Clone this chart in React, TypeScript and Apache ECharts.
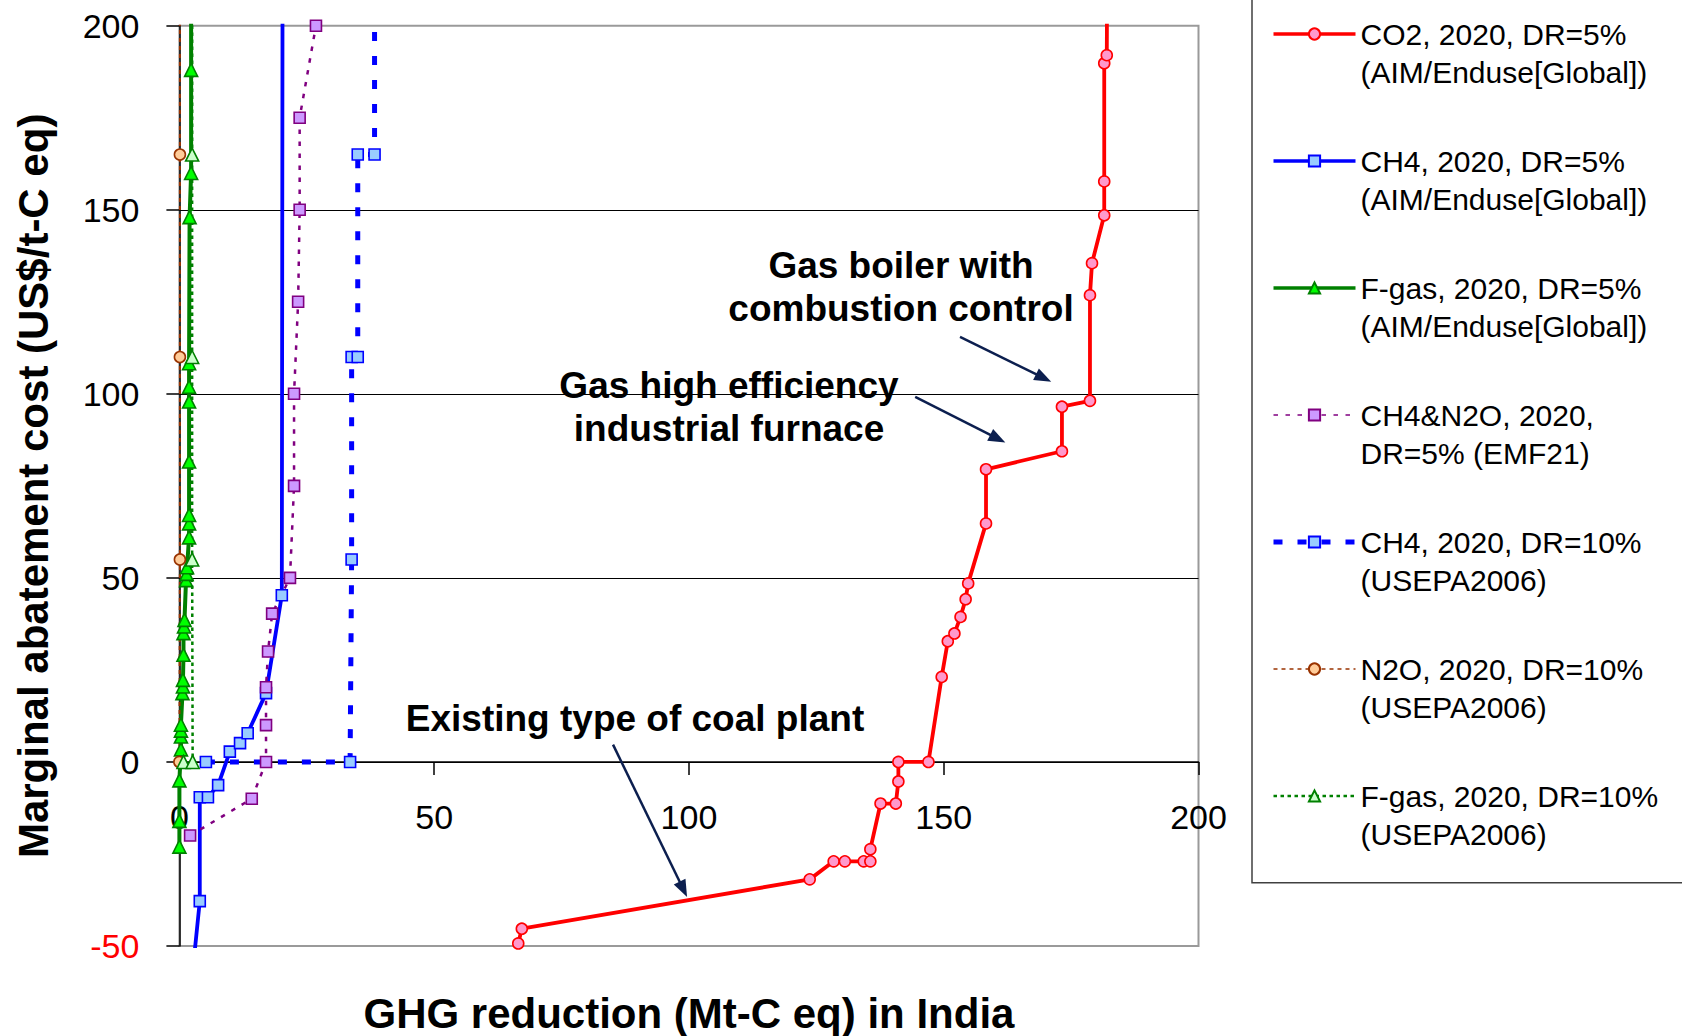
import React, { useEffect, useRef } from "react";
import * as echarts from "echarts";

const FONT = "'Liberation Sans', Arial, sans-serif";

const SERIES_NAMES = [
  "CO2, 2020, DR=5%\n(AIM/Enduse[Global])",
  "CH4, 2020, DR=5%\n(AIM/Enduse[Global])",
  "F-gas, 2020, DR=5%\n(AIM/Enduse[Global])",
  "CH4&N2O, 2020,\nDR=5% (EMF21)",
  "CH4, 2020, DR=10%\n(USEPA2006)",
  "N2O, 2020, DR=10%\n(USEPA2006)",
  "F-gas, 2020, DR=10%\n(USEPA2006)",
];

// [GHG reduction (Mt-C eq), marginal cost (US$/t-C eq)]
const CO2_DR5 = [
  [66.5, -60], [66.5, -49.3], [67.2, -45.3], [123.7, -31.9], [128.4, -27.0], [130.6, -27.0],
  [134.3, -27.0], [135.6, -27.0], [135.6, -23.7], [137.6, -11.3], [140.6, -11.3], [141.1, -5.3],
  [141.1, 0], [147.0, 0], [149.6, 23.1], [150.8, 32.8], [152.1, 34.9], [153.3, 39.4], [154.3, 44.2],
  [154.8, 48.5], [158.3, 64.8], [158.3, 79.5], [173.2, 84.4], [173.2, 96.5], [178.7, 98.1],
  [178.7, 126.8], [179.1, 135.5], [181.5, 148.5], [181.5, 157.7], [181.5, 189.8], [182.0, 192.0],
  [182.2, 250],
];
const CH4_DR5 = [
  [2.6, -57], [4.0, -37.8], [4.0, -9.6], [5.6, -9.6], [7.6, -6.3], [9.9, 2.8], [11.9, 5.1],
  [13.4, 7.8], [17.0, 18.7], [20.1, 45.3], [20.25, 220],
];
const FGAS_DR5 = [
  [0, -23], [0, -16], [0, -5], [0.3, 3.4], [0.3, 6.9], [0.3, 8.5], [0.3, 10.1], [0.6, 18.7],
  [0.7, 20.5], [0.7, 22.3], [0.8, 29.1], [0.8, 35.0], [0.9, 36.8], [1.0, 38.6], [1.3, 49.4],
  [1.4, 51.1], [1.5, 52.9], [1.9, 61.0], [1.9, 64.8], [1.9, 67.1], [1.9, 81.6], [1.9, 97.9],
  [1.9, 101.9], [1.9, 108.3], [2.0, 148], [2.3, 160], [2.3, 188], [2.3, 220],
];
const CH4N2O_EMF21 = [
  [2.1, -20], [14.2, -10], [17.0, 0], [17.0, 10], [17.0, 20.3], [17.4, 30], [18.2, 40.3],
  [21.7, 50], [22.5, 75], [22.5, 100], [23.3, 125], [23.6, 150], [23.6, 175], [26.8, 200],
];
const CH4_DR10 = [
  [5.2, 0], [33.5, 0], [33.8, 55], [33.8, 110], [35.0, 110], [35.0, 165], [38.3, 165], [38.3, 220],
];
const N2O_DR10 = [[0, 0], [0.1, 55], [0.1, 110], [0.1, 165], [0.1, 220]];
const FGAS_DR10 = [[0.8, 0], [2.6, 0], [2.5, 55], [2.5, 110], [2.5, 165], [2.5, 220]];

// annotation arrows, in data coordinates [from, to]
const ARROWS = [
  [[153.2, 115.5], [169.6, 104.3]],
  [[144.4, 99.2], [160.6, 87.8]],
  [[85.1, 4.7], [98.9, -34.6]],
];

const Y_MIN = -50;
const Y_MAX = 200;

function lineSeries(
  name: string,
  data: number[][],
  color: string,
  fill: string,
  symbol: string,
  symbolSize: number,
  width: number,
  type: any
) {
  return {
    type: "line",
    name,
    data,
    clip: true,
    symbol,
    symbolSize,
    showSymbol: true,
    lineStyle: { color, width, type },
    itemStyle: { color: fill, borderColor: color, borderWidth: 1.6 },
    emphasis: { disabled: true },
    silent: true,
  };
}

const LEGEND_LINE_WIDTHS = [3.5, 3.5, 3.5, 1.5, 5, 1.5, 2.5];

export default function App() {
  const ref = useRef<HTMLDivElement>(null);
  useEffect(() => {
    if (!ref.current) return;
    const chart = echarts.init(ref.current, null, { renderer: "svg" });
    const gridHeight = 920.3;
    // move the x axis (line, ticks, labels, name) up to the y = 0 level
    const xOffset = -(gridHeight * (0 - Y_MIN)) / (Y_MAX - Y_MIN);
    const boldText = (text: string, x: number, y: number) => ({
      type: "text",
      x,
      y,
      z: 100,
      style: {
        text,
        fontFamily: FONT,
        fontSize: 37,
        fontWeight: "bold",
        fill: "#000",
        align: "center",
        verticalAlign: "middle",
        lineHeight: 43,
      },
    });
    chart.setOption({
      animation: false,
      backgroundColor: "#ffffff",
      textStyle: { fontFamily: FONT },
      grid: {
        left: 179.4,
        top: 25.7,
        width: 1019.1,
        height: gridHeight,
        show: true,
        borderColor: "#9a9a9a",
        borderWidth: 2,
        backgroundColor: "transparent",
        containLabel: false,
        outerBoundsMode: "none",
      },
      xAxis: {
        type: "value",
        min: 0,
        max: 200,
        interval: 50,
        position: "bottom",
        offset: xOffset,
        axisLine: { onZero: false, lineStyle: { color: "#000", width: 1.5 } },
        axisTick: { show: true, length: 13, lineStyle: { color: "#000", width: 1.5 } },
        axisLabel: { fontSize: 34, color: "#000", margin: 38, fontFamily: FONT },
        splitLine: { show: false },
        name: "GHG reduction (Mt-C eq) in India",
        nameLocation: "middle",
        nameGap: 252,
        nameTextStyle: {
          fontSize: 42,
          fontWeight: "bold",
          color: "#000",
          fontFamily: FONT,
          verticalAlign: "middle",
        },
      },
      yAxis: {
        type: "value",
        min: Y_MIN,
        max: Y_MAX,
        interval: 50,
        axisLine: { show: true, onZero: false, lineStyle: { color: "#000", width: 1.5 } },
        axisTick: { show: true, length: 13, lineStyle: { color: "#000", width: 1.5 } },
        axisLabel: {
          fontSize: 34,
          margin: 40,
          fontFamily: FONT,
          color: (v: any) => (Number(v) < 0 ? "#ff0000" : "#000000"),
        },
        splitLine: {
          show: true,
          lineStyle: {
            color: ["transparent", "#000", "#000", "#000", "#000", "transparent"],
            width: 1.2,
          },
        },
        name: "Marginal abatement cost (US$/t-C eq)",
        nameLocation: "middle",
        nameRotate: 90,
        nameGap: 146,
        nameTextStyle: {
          fontSize: 42,
          fontWeight: "bold",
          color: "#000",
          fontFamily: FONT,
          verticalAlign: "middle",
        },
      },
      legend: {
        orient: "vertical",
        left: 1271,
        top: -23,
        padding: 0,
        itemWidth: 82,
        itemHeight: 14,
        itemGap: 13,
        selectedMode: false,
        data: SERIES_NAMES.map((name, i) => ({
          name,
          lineStyle: { width: LEGEND_LINE_WIDTHS[i] },
        })),
        formatter: (name: string) => " \n" + name,
        textStyle: {
          fontSize: 30,
          lineHeight: 38,
          color: "#000",
          fontFamily: FONT,
        },
      },
      series: [
        lineSeries(SERIES_NAMES[0], CO2_DR5, "#ff0000", "#ff99cc", "circle", 11, 3.8, "solid"),
        lineSeries(SERIES_NAMES[1], CH4_DR5, "#0000ff", "#99ccff", "rect", 11, 3.8, "solid"),
        lineSeries(SERIES_NAMES[2], FGAS_DR5, "#008000", "#00ff00", "triangle", 13, 4, "solid"),
        lineSeries(SERIES_NAMES[4], CH4_DR10, "#0000ff", "#99ccff", "rect", 11, 5, [9, 15]),
        lineSeries(SERIES_NAMES[3], CH4N2O_EMF21, "#800080", "#cc99ff", "rect", 11, 2.5, [4.5, 7.5]),
        lineSeries(SERIES_NAMES[5], N2O_DR10, "#993300", "#ffcc99", "circle", 11, 2, [4, 4]),
        lineSeries(SERIES_NAMES[6], FGAS_DR10, "#008000", "#ccffcc", "triangle", 13, 2.5, [3.5, 3.5]),
        {
          type: "line",
          name: "annotation-arrows",
          data: [],
          silent: true,
          markLine: {
            silent: true,
            animation: false,
            symbol: ["none", "triangle"],
            symbolSize: [13, 17],
            label: { show: false },
            emphasis: { disabled: true },
            lineStyle: { color: "#0c1f4f", width: 2.5, type: "solid" },
            data: ARROWS.map((a) => [{ coord: a[0] }, { coord: a[1] }]),
          },
        },
      ],
      graphic: [
        {
          type: "rect",
          z: 0,
          shape: { x: 1252, y: -5, width: 470, height: 887.7 },
          style: { fill: "none", stroke: "#404040", lineWidth: 1.5 },
        },
        boldText("Gas boiler with\ncombustion control", 901, 286.7),
        boldText("Gas high efficiency\nindustrial furnace", 729, 407),
        boldText("Existing type of coal plant", 635, 718),
      ],
    });
    return () => chart.dispose();
  }, []);
  return (
    <div
      ref={ref}
      style={{ position: "absolute", left: 0, top: 0, width: 1682, height: 1036 }}
    />
  );
}
